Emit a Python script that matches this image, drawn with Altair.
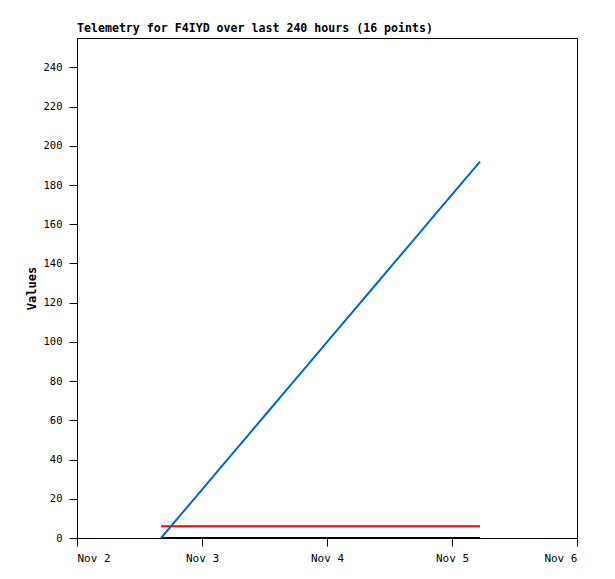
import altair as alt
import pandas as pd

times = [
    "2023-11-02T16:08:00Z", "2023-11-02T20:13:00Z", "2023-11-03T00:18:00Z", "2023-11-03T04:23:00Z",
    "2023-11-03T08:28:00Z", "2023-11-03T12:33:00Z", "2023-11-03T16:38:00Z", "2023-11-03T20:43:00Z",
    "2023-11-04T00:48:00Z", "2023-11-04T04:53:00Z", "2023-11-04T08:58:00Z", "2023-11-04T13:03:00Z",
    "2023-11-04T17:08:00Z", "2023-11-04T21:13:00Z", "2023-11-05T01:18:00Z", "2023-11-05T05:23:00Z",
]
blue_vals = [0, 12.8, 25.6, 38.4, 51.2, 64, 76.8, 89.6, 102.4, 115.2, 128, 140.8, 153.6, 166.4, 179.2, 192]
red_vals = [6, 6, 6, 6, 6, 6, 6, 6, 6, 6, 6, 6, 6, 6, 6, 6]
black_vals = [0, 0, 0, 0, 0, 0, 0, 0, 0, 0, 0, 0, 0, 0, 0, 0]

series_names = ["black", "red", "blue"]
series_colors = ["#000000", "#ff0000", "#0066cc"]

rows = []
for name, vals in zip(series_names, [black_vals, red_vals, blue_vals]):
    for t, v in zip(times, vals):
        rows.append({"t": t, "v": v, "s": name})
df = pd.DataFrame(rows)

FONT = "DejaVu Sans Mono"

x = alt.X("t:T", title=None,
          scale=alt.Scale(type="utc",
                          domain=[alt.DateTime(year=2023, month=11, date=2, utc=True),
                                  alt.DateTime(year=2023, month=11, date=6, utc=True)]),
          axis=alt.Axis(format="%b %-d", tickCount={"interval": "day", "step": 1},
                        grid=False, tickSize=8, labelPadding=6, domainColor="black",
                        tickColor="black", labelColor="black", labelFont=FONT, labelFontSize=11))
y = alt.Y("v:Q", title="Values",
          scale=alt.Scale(domain=[0, 255], nice=False),
          axis=alt.Axis(values=list(range(0, 241, 20)), grid=False, tickSize=8, labelPadding=7,
                        domainColor="black", tickColor="black", labelColor="black",
                        labelFont=FONT, labelFontSize=10.5, titleFont=FONT, titleFontSize=12,
                        titleFontWeight="bold", titleColor="black", titlePadding=5))

chart = alt.Chart(df).mark_line(strokeWidth=2).encode(
    x=x, y=y,
    color=alt.Color("s:N", scale=alt.Scale(domain=series_names, range=series_colors), legend=None),
    order=alt.Order("t:T"),
).properties(
    width=500, height=500,
    title=alt.TitleParams("Telemetry for F4IYD over last 240 hours (16 points)", anchor="start",
                          frame="group",
                          font=FONT, fontSize=11.6, fontWeight="bold", color="black", offset=3),
    autosize=alt.AutoSizeParams(type="none"),
    padding={"left": 69, "top": 30, "right": 30, "bottom": 33},
).configure(background="white").configure_view(stroke="black", strokeWidth=1, strokeOpacity=1)

chart.save("out.html", embed_options={"renderer": "svg", "actions": False})
